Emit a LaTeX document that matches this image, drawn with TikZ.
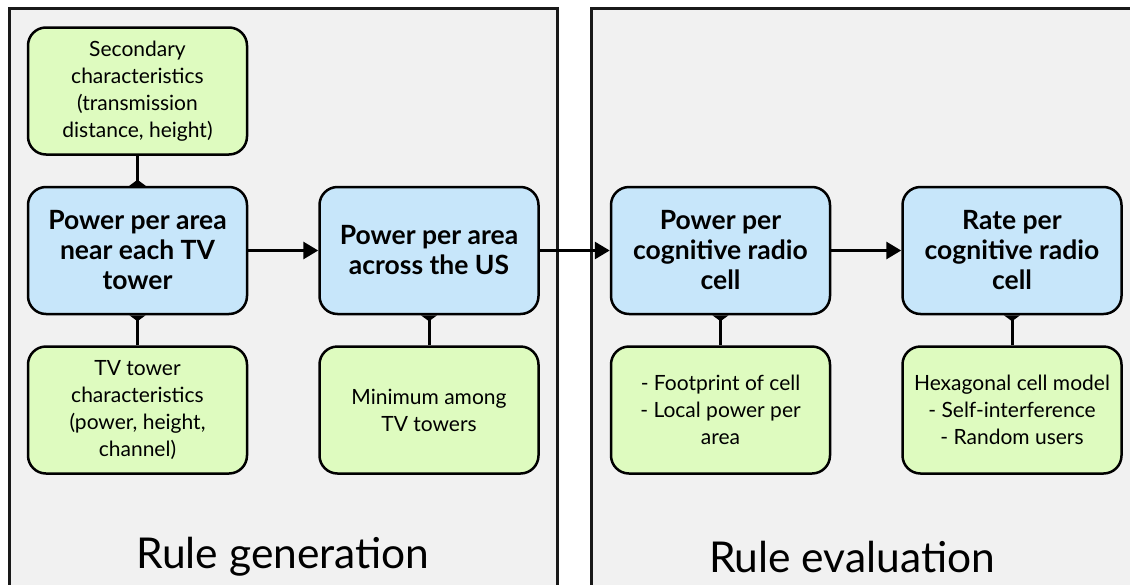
\documentclass[tikz,border=0pt]{standalone}
\usepackage{fontspec}
\setmainfont{Lato}
\usetikzlibrary{arrows.meta, positioning}
\definecolor{panelgray}{RGB}{241,241,241}
\definecolor{stepblue}{RGB}{199,230,250}
\definecolor{inputgreen}{RGB}{222,251,191}

\begin{document}
\begin{tikzpicture}[
    x=1pt, y=-1pt,
    >={Triangle[width=17pt, length=15pt]},
    node distance=30pt and 70pt,
    panel/.style={draw=black!90, line width=3pt, fill=panelgray},
    stepbox/.style={draw, rectangle, rounded corners=18pt, fill=stepblue, line width=2.5pt, minimum width=219pt, minimum height=127pt, align=center, font=\fontsize{26.5}{30}\selectfont\bfseries},
    inbox/.style={draw, rectangle, rounded corners=18pt, fill=inputgreen, line width=2.5pt, minimum width=219pt, minimum height=127pt, align=center, font=\fontsize{21}{27}\selectfont},
    flow/.style={->, line width=3pt},
    feed/.style={-{Triangle[reversed, width=16pt, length=6pt]}, line width=3pt},
    paneltitle/.style={font=\fontsize{42.5}{48}\selectfont}
  ]

  \useasboundingbox (0,0) rectangle (1130,584);
  \fill[white] (0,0) rectangle (1130,584);

  % the two stages
  \draw[panel] (9,8) rectangle (557,610);
  \draw[panel] (591,8) rectangle (1150,610);
  \node (gen_title) [paneltitle] at (283,557) {Rule generation};
  \node (eval_title) [paneltitle] at (852,557) {Rule evaluation};

  \node (tower_pow) [stepbox] at (137.5,250.5) {Power per area\\near each TV\\tower};
  \node (us_pow) [stepbox, right=of tower_pow] {Power per area\\across the US};
  \node (cell_pow) [stepbox, right=of us_pow] {Power per\\cognitive radio\\cell};
  \node (cell_rate) [stepbox, right=of cell_pow] {Rate per\\cognitive radio\\cell};

  \node (second_ch) [inbox, above=of tower_pow] {Secondary\\characteristics\\(transmission\\distance, height)};
  \node (tower_ch) [inbox, below=of tower_pow] {TV tower\\characteristics\\(power, height,\\channel)};
  \node (min_tow) [inbox, below=of us_pow] {Minimum among\\TV towers};
  \node (footprint) [inbox, below=of cell_pow] {- Footprint of cell\\- Local power per\\area};
  \node (hexmodel) [inbox, below=of cell_rate] {Hexagonal cell model\\- Self-interference\\- Random users};

  \draw[flow] (tower_pow) -- (us_pow);
  \draw[flow] (us_pow) -- (cell_pow);
  \draw[flow] (cell_pow) -- (cell_rate);

  \draw[feed] (second_ch) -- (tower_pow);
  \draw[feed] (tower_ch) -- (tower_pow);
  \draw[feed] (min_tow) -- (us_pow);
  \draw[feed] (footprint) -- (cell_pow);
  \draw[feed] (hexmodel) -- (cell_rate);

\end{tikzpicture}
\end{document}
